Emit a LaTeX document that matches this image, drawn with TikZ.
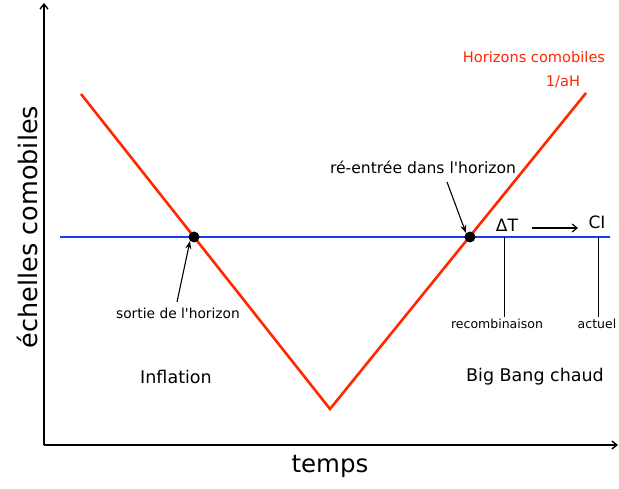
\documentclass[tikz,border=0pt]{standalone}
\usepackage{fontspec}
\setmainfont{DejaVu Sans}
\usetikzlibrary{arrows.meta}
\definecolor{hred}{RGB}{255,40,0}
\definecolor{hblue}{RGB}{20,60,240}
\tikzset{
  axis/.style={line width=1.4pt,-{Straight Barb[length=5pt,width=8pt]}},
  redline/.style={hred,line width=2.6pt},
  blueline/.style={hblue,line width=2.6pt},
  pointer/.style={line width=1.1pt,-{Stealth[length=8pt,width=6pt]}},
  barb/.style={line width=1.1pt,-{Straight Barb[length=5pt,width=8pt]}},
  tick/.style={line width=0.8pt},
  dot/.style={circle,fill=black,inner sep=0pt,minimum size=11pt},
  lbl/.style={inner sep=0pt,font=\fontsize{#1}{#1}\selectfont},
}
\begin{document}
\begin{tikzpicture}[x=1pt,y=-1pt]
\useasboundingbox (0,0) rectangle (619,489);
% axes
\coordinate (O) at (44,445);
\coordinate (Ytop) at (44,3);
\coordinate (Xend) at (618,445);
\draw[axis] (O) -- (Ytop);
\draw[axis] (O) -- (Xend);
% blue line
\coordinate (B1) at (60,237);
\coordinate (B2) at (610,237);
\draw[blueline] (B1) -- (B2);
% red V
\coordinate (R1) at (81,94);
\coordinate (R2) at (330,409);
\coordinate (R3) at (586,93);
\draw[redline,line join=miter] (R1) -- (R2) -- (R3);
% dots
\node[dot] (exit) at (194,237) {};
\node[dot] (enter) at (470,237) {};
% labels
\node[lbl=14.6,hred] (hc) at (534,57) {Horizons comobiles};
\node[lbl=14.6,hred] (ah) at (563,82) {1/aH};
\node[lbl=15.6] (reen) at (423,167) {ré-entrée dans l\textquotesingle horizon};
\node[lbl=13.8] (sort) at (178,313) {sortie de l\textquotesingle horizon};
\coordinate (p1) at (447,182);
\coordinate (p2) at (177,302);
\draw[pointer] (p1) -- (enter.north west);
\draw[pointer] (p2) -- (exit.south west);
\node[lbl=17] (dT) at (507,225) {ΔT};
\node[lbl=17] (CI) at (597,222) {CI};
\coordinate (a1) at (532,228);
\coordinate (a2) at (578,228);
\draw[barb] (a1) -- (a2);
\coordinate (t1) at (504,237);
\coordinate (t2) at (598,237);
\node[lbl=12.5] (rec) at (497,324) {recombinaison};
\node[lbl=12.5] (act) at (597,324) {actuel};
\draw[tick] (t1) -- (504,317);
\draw[tick] (t2) -- (598,317);
\node[lbl=17.5] (inf) at (176,377) {Inflation};
\node[lbl=17.5] (bb) at (535,377) {Big Bang chaud};
\node[lbl=24.5] (tp) at (330,466) {temps};
\node[lbl=25.5,rotate=90] (ec) at (27,227) {échelles comobiles};
\end{tikzpicture}
\end{document}
